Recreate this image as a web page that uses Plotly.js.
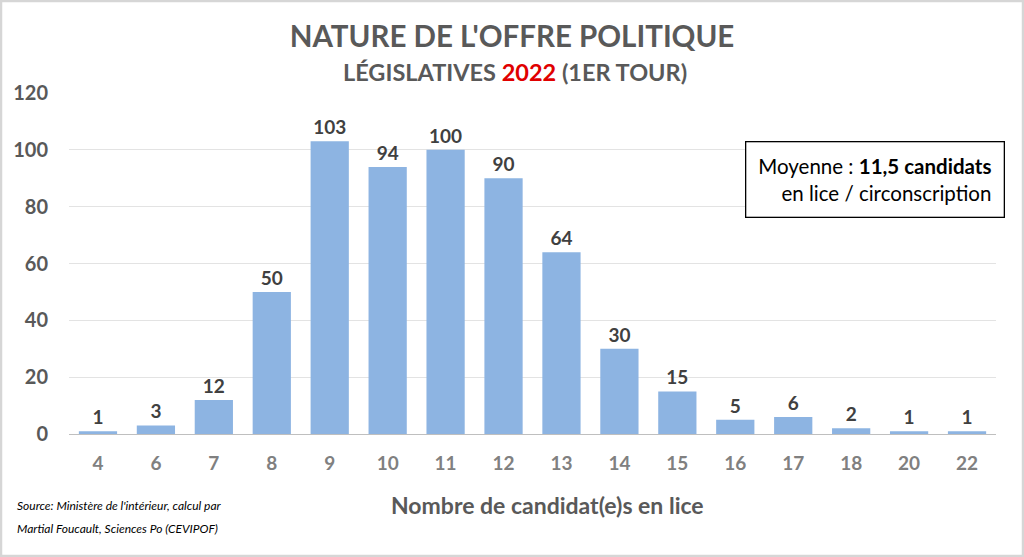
<!DOCTYPE html>
<html><head><meta charset="utf-8">
<script src="https://cdn.plot.ly/plotly-3.0.1.min.js"></script>
<style>html,body{margin:0;padding:0;background:#fff;}#chart{width:1024px;height:557px;}</style>
</head><body><div id="chart"></div>
<script>
const categories = ["4","6","7","8","9","10","11","12","13","14","15","16","17","18","20","22"];
const counts = [1,3,12,50,103,94,100,90,64,30,15,5,6,2,1,1];
const yTicks = [0,20,40,60,80,100,120];

const F = "Lato, 'Open Sans', sans-serif";
// plot area in pixels: left 69, right 996, top 93, bottom 434
const PL = 69, PR = 996, PT = 93, PB = 434;
const px = x => (x - PL) / (PR - PL);
const py = y => (PB - y) / (PB - PT);

const trace = {
  type: "bar", x: categories, y: counts,
  marker: {color: "#8db4e2"},
  text: counts.map(String), textposition: "outside", cliponaxis: false,
  textfont: {family: F, size: 19, color: "#404040", weight: "bold"},
  hoverinfo: "x+y"
};
const layout = {
  width: 1024, height: 557,
  margin: {l: PL, r: 1024 - PR, t: PT, b: 557 - PB},
  paper_bgcolor: "#fff", plot_bgcolor: "#fff",
  bargap: 0.34, showlegend: false,
  font: {family: F},
  title: {text: "<b>NATURE DE L'OFFRE POLITIQUE</b>",
          x: 0.5, xanchor: "center", yref: "container", y: 1 - 37/557, yanchor: "middle",
          font: {family: F, size: 29.5, color: "#595959"}},
  xaxis: {type: "category", tickfont: {family: F, size: 19, color: "#808080", weight: "bold"},
          showline: true, linecolor: "#bfbfbf", ticks: "", showgrid: false, ticklabelstandoff: 12},
  yaxis: {range: [0, 120], tickvals: yTicks, ticktext: yTicks.map(String),
          tickfont: {family: F, size: 20, color: "#595959", weight: "bold"},
          gridcolor: "#e3e3e3", zeroline: false, showline: false, ticks: "", ticklabelstandoff: 20},
  annotations: [
    {xref: "paper", yref: "paper", x: px(515), y: py(72), xanchor: "center", yanchor: "middle", showarrow: false,
     text: "<b>LÉGISLATIVES <span style='color:#e00000'>2022</span> (1ER TOUR)</b>",
     font: {family: F, size: 23.5, color: "#595959"}},
    {xref: "paper", yref: "paper", x: px(547), y: py(505), xanchor: "center", yanchor: "middle", showarrow: false,
     text: "<b>Nombre de candidat(e)s en lice</b>",
     font: {family: F, size: 23, color: "#595959"}},
    {xref: "paper", yref: "paper", x: px(15), y: py(505), xanchor: "left", yanchor: "middle", showarrow: false,
     text: "<i>Source: Ministère de l'intérieur, calcul par</i>",
     font: {family: F, size: 12, color: "#000", style: "italic"}},
    {xref: "paper", yref: "paper", x: px(15), y: py(528), xanchor: "left", yanchor: "middle", showarrow: false,
     text: "<i>Martial Foucault, Sciences Po (CEVIPOF)</i>",
     font: {family: F, size: 12, color: "#000", style: "italic"}},
    {xref: "paper", yref: "paper", x: px(1005), y: py(141), xanchor: "right", yanchor: "top", align: "right", showarrow: false,
     text: "Moyenne : <b>11,5 candidats</b><br>en lice / circonscription",
     font: {family: F, size: 20.5, color: "#000"},
     bordercolor: "#000", borderwidth: 1.3, borderpad: 12, bgcolor: "#fff"}
  ],
  shapes: [
    {type: "rect", xref: "paper", yref: "paper", x0: px(1), x1: px(1023), y0: py(556), y1: py(1), line: {color: "#d6d6d6", width: 2.5}}
  ]
};
Plotly.newPlot("chart", [trace], layout, {displayModeBar: false, staticPlot: true});
</script></body></html>
